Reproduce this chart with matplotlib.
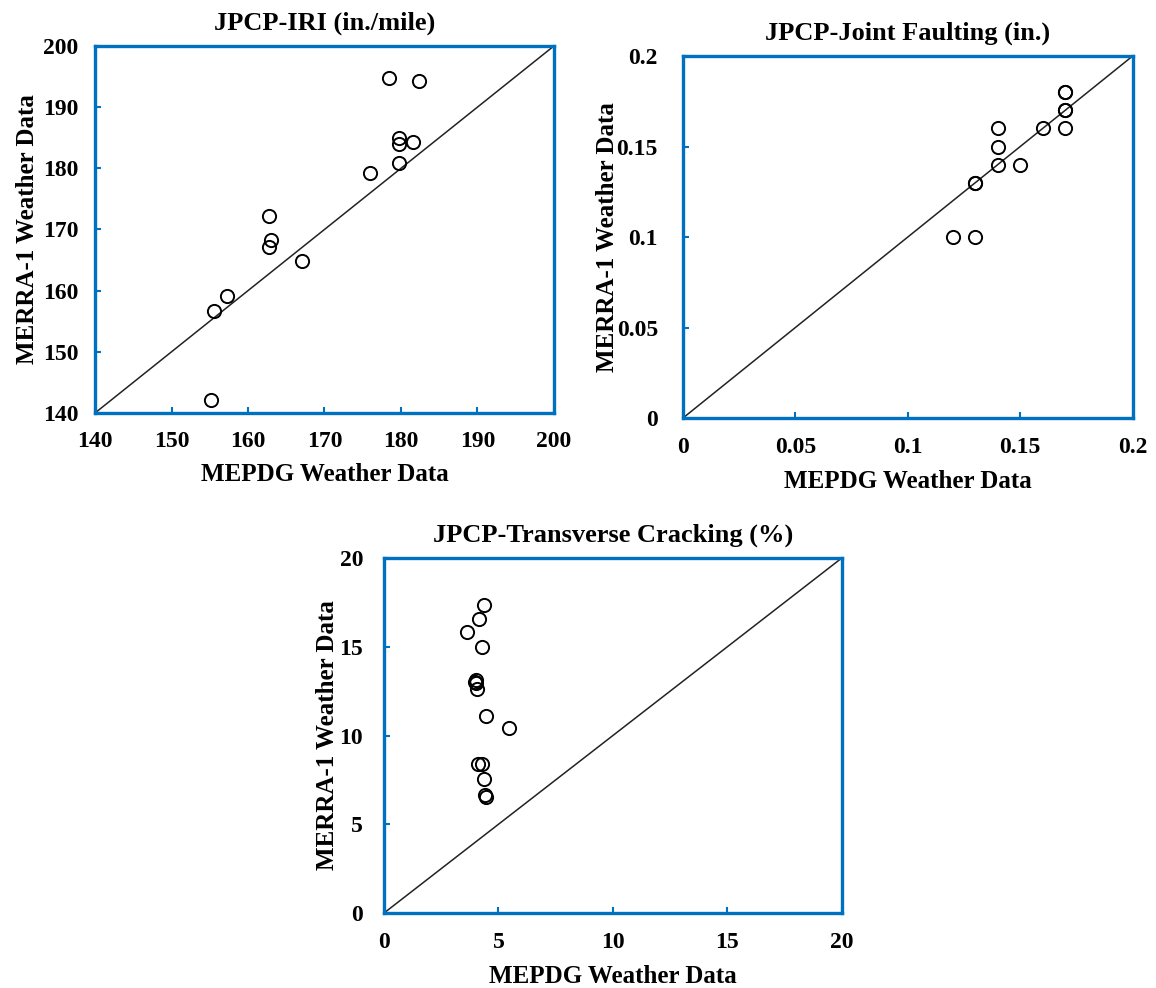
import numpy as np
import matplotlib
matplotlib.use("Agg")
from matplotlib import pyplot as plt

plt.rcParams['font.family'] = ['Liberation Serif', 'DejaVu Serif']
plt.rcParams['font.weight'] = 'bold'

# JPCP-IRI (in./mile)
iri_mepdg = [178.4, 182.4, 179.7, 179.7, 181.6, 179.7, 176.0, 162.8, 163.0, 162.8, 167.0, 157.3, 155.6, 155.1]
iri_merra = [194.8, 194.2, 184.9, 183.9, 184.3, 180.8, 179.3, 172.2, 168.3, 167.2, 164.8, 159.2, 156.7, 142.1]

# JPCP-Joint Faulting (in.)
fault_mepdg = [0.17, 0.17, 0.17, 0.17, 0.16, 0.17, 0.14, 0.14, 0.14, 0.15, 0.13, 0.13, 0.12, 0.13]
fault_merra = [0.18, 0.18, 0.17, 0.17, 0.16, 0.16, 0.16, 0.15, 0.14, 0.14, 0.13, 0.13, 0.10, 0.10]

# JPCP-Transverse Cracking (%)
crack_mepdg = [4.37, 4.13, 3.64, 4.29, 4.00, 4.02, 4.06, 3.98, 4.44, 5.44, 4.10, 4.29, 4.37, 4.40, 4.44]
crack_merra = [17.33, 16.58, 15.86, 15.01, 13.13, 12.94, 12.60, 13.00, 11.08, 10.44, 8.37, 8.37, 7.53, 6.64, 6.55]

BLUE = '#0070C0'

fig = plt.figure(figsize=(11.56, 9.88), dpi=100)

panels = [
    # rect, x, y, lim, ticks, ticklabels, title, ypad, xpad, ylabelpad
    ([0.0822, 0.582, 0.397, 0.3715], iri_mepdg, iri_merra, (140, 200),
     [140, 150, 160, 170, 180, 190, 200],
     ['140', '150', '160', '170', '180', '190', '200'],
     'JPCP-IRI (in./mile)', 12, 13, 3),
    ([0.5908, 0.5769, 0.389, 0.3664], fault_mepdg, fault_merra, (0, 0.2),
     [0, 0.05, 0.1, 0.15, 0.2],
     ['0', '0.05', '0.1', '0.15', '0.2'],
     'JPCP-Joint Faulting (in.)', 18, 14, -2),
    ([0.3322, 0.0759, 0.396, 0.3593], crack_mepdg, crack_merra, (0, 20),
     [0, 5, 10, 15, 20],
     ['0', '5', '10', '15', '20'],
     'JPCP-Transverse Cracking (%)', 15, 14, 0),
]

for rect, x, y, lim, ticks, labels, title, ypad, xpad, ylp in panels:
    ax = fig.add_axes(rect)
    ax.plot(lim, lim, color='#222222', lw=1.1, zorder=1)
    ax.plot(x, y, 'o', ms=9.5, mfc='none', mec='black', mew=1.4, zorder=2)
    ax.set_xlim(lim)
    ax.set_ylim(lim)
    ax.set_xticks(ticks)
    ax.set_xticklabels(labels)
    ax.set_yticks(ticks)
    ax.set_yticklabels(labels)
    for s in ax.spines.values():
        s.set_color(BLUE)
        s.set_linewidth(2.4)
    ax.tick_params(axis='both', direction='in', color=BLUE, length=4, width=1.5,
                   labelsize=17)
    ax.tick_params(axis='x', pad=xpad)
    ax.tick_params(axis='y', pad=ypad)
    ax.set_title(title, fontsize=19, fontweight='bold', pad=12)
    ax.set_xlabel('MEPDG Weather Data', fontsize=18, fontweight='bold', labelpad=8)
    ax.set_ylabel('MERRA-1 Weather Data', fontsize=18, fontweight='bold', labelpad=ylp)

fig.savefig('out.png', dpi=100)
